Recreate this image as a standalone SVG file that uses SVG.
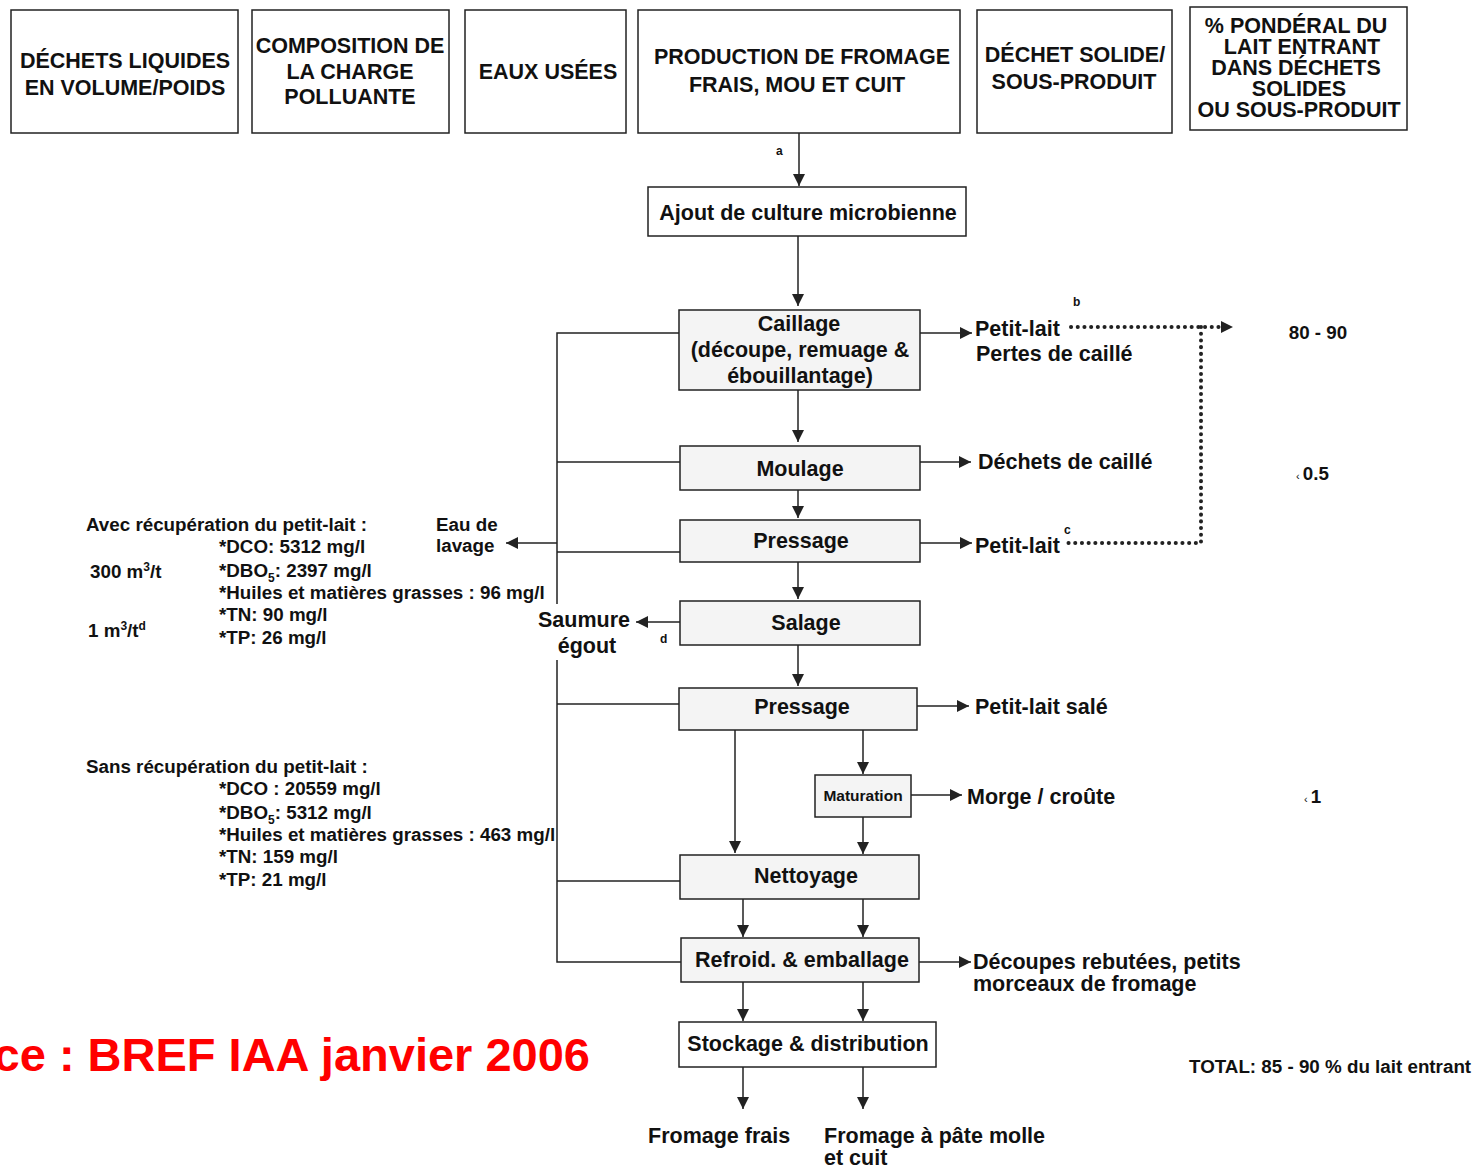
<svg xmlns="http://www.w3.org/2000/svg" width="1474" height="1169" viewBox="0 0 1474 1169">
<defs>
<marker id="ah" viewBox="0 0 10 10" refX="10" refY="5" markerWidth="12" markerHeight="12" markerUnits="userSpaceOnUse" orient="auto"><path d="M0,0 L10,5 L0,10 z" fill="#222"/></marker>
</defs>
<style>
text{font-family:"Liberation Sans",Arial,sans-serif;font-weight:bold;fill:#111}
.hd{font-size:21.5px;text-anchor:middle}
.bx{fill:#fff;stroke:#222;stroke-width:1.5}
.pb{fill:#f4f4f4;stroke:#222;stroke-width:1.5}
.bt{font-size:21.5px;text-anchor:middle}
.lb{font-size:21.5px}
.sm{font-size:18.8px}
.tiny{font-size:12px}
.ln{stroke:#222;stroke-width:1.5;fill:none}
.ar{stroke:#222;stroke-width:1.5;fill:none;marker-end:url(#ah)}
.dot{stroke:#222;stroke-width:4;stroke-dasharray:0.1 6.6;stroke-linecap:round;fill:none}
</style>
<rect width="1474" height="1169" fill="#fff"/>

<g id="h1"><rect class="bx" x="11" y="10" width="227" height="123"/><text class="hd" x="125" y="68">DÉCHETS LIQUIDES</text><text class="hd" x="125" y="95">EN VOLUME/POIDS</text></g>
<g id="h2"><rect class="bx" x="252" y="10" width="197" height="123"/><text class="hd" x="350" y="53">COMPOSITION DE</text><text class="hd" x="350" y="79">LA CHARGE</text><text class="hd" x="350" y="104">POLLUANTE</text></g>
<g id="h3"><rect class="bx" x="465" y="10" width="161" height="123"/><text class="hd" x="548" y="79">EAUX USÉES</text></g>
<g id="h4"><rect class="bx" x="638" y="10" width="322" height="123"/><text class="hd" x="802" y="64">PRODUCTION DE FROMAGE</text><text class="hd" x="797" y="92">FRAIS, MOU ET CUIT</text></g>
<g id="h5"><rect class="bx" x="977" y="10" width="195" height="123"/><text class="hd" x="1075" y="62">DÉCHET SOLIDE/</text><text class="hd" x="1074" y="89">SOUS-PRODUIT</text></g>
<g id="h6"><rect class="bx" x="1190" y="7" width="217" height="123"/><text class="hd" x="1296" y="33">% PONDÉRAL DU</text><text class="hd" x="1302" y="54">LAIT ENTRANT</text><text class="hd" x="1296" y="75">DANS DÉCHETS</text><text class="hd" x="1299" y="96">SOLIDES</text><text class="hd" x="1299" y="117">OU SOUS-PRODUIT</text></g>

<g id="ajout"><rect class="bx" x="648" y="187" width="318" height="49"/><text class="bt" x="808" y="220">Ajout de culture microbienne</text></g>
<g id="caillage"><rect class="pb" x="679" y="310" width="241" height="80"/><text class="bt" x="799" y="331">Caillage</text><text class="bt" x="800" y="357">(découpe, remuage &amp;</text><text class="bt" x="800" y="383">ébouillantage)</text></g>
<g id="moulage"><rect class="pb" x="680" y="446" width="240" height="44"/><text class="bt" x="800" y="476">Moulage</text></g>
<g id="pressage1"><rect class="pb" x="680" y="520" width="240" height="42"/><text class="bt" x="801" y="548">Pressage</text></g>
<g id="salage"><rect class="pb" x="680" y="601" width="240" height="44"/><text class="bt" x="806" y="630">Salage</text></g>
<g id="pressage2"><rect class="pb" x="679" y="688" width="238" height="42"/><text class="bt" x="802" y="714">Pressage</text></g>
<g id="maturation"><rect class="pb" x="815" y="775" width="96" height="42"/><text x="863" y="801" style="font-size:15.5px;text-anchor:middle">Maturation</text></g>
<g id="nettoyage"><rect class="pb" x="680" y="855" width="239" height="44"/><text class="bt" x="806" y="883">Nettoyage</text></g>
<g id="refroid"><rect class="pb" x="681" y="938" width="238" height="44"/><text class="bt" x="802" y="967">Refroid. &amp; emballage</text></g>
<g id="stockage"><rect class="bx" x="679" y="1022" width="257" height="45"/><text class="bt" x="808" y="1051">Stockage &amp; distribution</text></g>

<g id="connectors">
<line class="ar" x1="799" y1="133" x2="799" y2="186"/>
<line class="ar" x1="798" y1="236" x2="798" y2="306"/>
<line class="ar" x1="798" y1="390" x2="798" y2="442"/>
<line class="ar" x1="798" y1="490" x2="798" y2="518"/>
<line class="ar" x1="798" y1="562" x2="798" y2="599"/>
<line class="ar" x1="798" y1="645" x2="798" y2="686"/>
<line class="ar" x1="735" y1="730" x2="735" y2="853"/>
<line class="ar" x1="863" y1="730" x2="863" y2="774"/>
<line class="ar" x1="863" y1="817" x2="863" y2="854"/>
<line class="ar" x1="743" y1="899" x2="743" y2="937"/>
<line class="ar" x1="863" y1="899" x2="863" y2="937"/>
<line class="ar" x1="743" y1="982" x2="743" y2="1021"/>
<line class="ar" x1="863" y1="982" x2="863" y2="1021"/>
<line class="ar" x1="743" y1="1067" x2="743" y2="1109"/>
<line class="ar" x1="863" y1="1067" x2="863" y2="1109"/>
<line class="ar" x1="920" y1="333" x2="972" y2="333"/>
<line class="ar" x1="920" y1="462" x2="971" y2="462"/>
<line class="ar" x1="920" y1="543" x2="972" y2="543"/>
<line class="ar" x1="917" y1="706" x2="969" y2="706"/>
<line class="ar" x1="911" y1="795" x2="962" y2="795"/>
<line class="ar" x1="919" y1="962" x2="971" y2="962"/>
<line class="ar" x1="557" y1="543" x2="506" y2="543"/>
<line class="ar" x1="680" y1="622" x2="636" y2="622"/>
<polyline class="ln" points="679,333 557,333 557,604"/>
<polyline class="ln" points="557,660 557,962 681,962"/>
<line class="ln" x1="557" y1="462" x2="680" y2="462"/>
<line class="ln" x1="557" y1="552" x2="680" y2="552"/>
<line class="ln" x1="557" y1="704" x2="679" y2="704"/>
<line class="ln" x1="557" y1="881" x2="680" y2="881"/>
<path class="dot" d="M1071,327 H1222"/>
<path d="M1221,321 L1233,327 L1221,333 z" fill="#222"/>
<path class="dot" d="M1201,327 V543 H1062"/>
</g>

<g id="labels">
<text class="tiny" x="776" y="155">a</text>
<text class="tiny" x="1073" y="306">b</text>
<text class="tiny" x="1064" y="534">c</text>
<text class="tiny" x="660" y="643">d</text>
<text class="lb" x="975" y="336">Petit-lait</text>
<text class="lb" x="976" y="361">Pertes de caillé</text>
<text class="lb" x="978" y="469">Déchets de caillé</text>
<text class="lb" x="975" y="553">Petit-lait</text>
<text class="lb" x="975" y="714">Petit-lait salé</text>
<text class="lb" x="967" y="804">Morge / croûte</text>
<text class="lb" x="973" y="969">Découpes rebutées, petits</text>
<text class="lb" x="973" y="991">morceaux de fromage</text>
<text class="sm" x="1318" y="339" style="text-anchor:middle">80 - 90</text>
<text class="sm" x="1296" y="480"><tspan style="font-size:11px;font-weight:normal">‹ </tspan>0.5</text>
<text class="sm" x="1304" y="803"><tspan style="font-size:11px;font-weight:normal">‹ </tspan>1</text>
<text class="lb" x="584" y="627" style="text-anchor:middle">Saumure</text>
<text class="lb" x="587" y="653" style="text-anchor:middle">égout</text>
<text class="sm" x="436" y="531">Eau de</text>
<text class="sm" x="436" y="552">lavage</text>
<text class="sm" x="86" y="531">Avec récupération du petit-lait :</text>
<text class="sm" x="219" y="553">*DCO: 5312 mg/l</text>
<text class="sm" x="90" y="578">300 m<tspan style="font-size:12px" dy="-7">3</tspan><tspan dy="7">/t</tspan></text>
<text class="sm" x="219" y="577">*DBO<tspan style="font-size:12px" dy="5">5</tspan><tspan dy="-5">: 2397 mg/l</tspan></text>
<text class="sm" x="219" y="599">*Huiles et matières grasses : 96 mg/l</text>
<text class="sm" x="219" y="621">*TN: 90 mg/l</text>
<text class="sm" x="88" y="637">1 m<tspan style="font-size:12px" dy="-7">3</tspan><tspan dy="7">/t</tspan><tspan style="font-size:12px" dy="-7">d</tspan></text>
<text class="sm" x="219" y="644">*TP: 26 mg/l</text>
<text class="sm" x="86" y="773">Sans récupération du petit-lait :</text>
<text class="sm" x="219" y="795">*DCO : 20559 mg/l</text>
<text class="sm" x="219" y="819">*DBO<tspan style="font-size:12px" dy="5">5</tspan><tspan dy="-5">: 5312 mg/l</tspan></text>
<text class="sm" x="219" y="841">*Huiles et matières grasses : 463 mg/l</text>
<text class="sm" x="219" y="863">*TN: 159 mg/l</text>
<text class="sm" x="219" y="886">*TP: 21 mg/l</text>
<text class="lb" x="648" y="1143">Fromage frais</text>
<text class="lb" x="824" y="1143">Fromage à pâte molle</text>
<text class="lb" x="824" y="1165">et cuit</text>
<text class="sm" x="1189" y="1073">TOTAL: 85 - 90 % du lait entrant</text>
<text x="590" y="1071" style="font-size:47px;fill:#ff0000;text-anchor:end">ce : BREF IAA janvier 2006</text>
</g>
</svg>
